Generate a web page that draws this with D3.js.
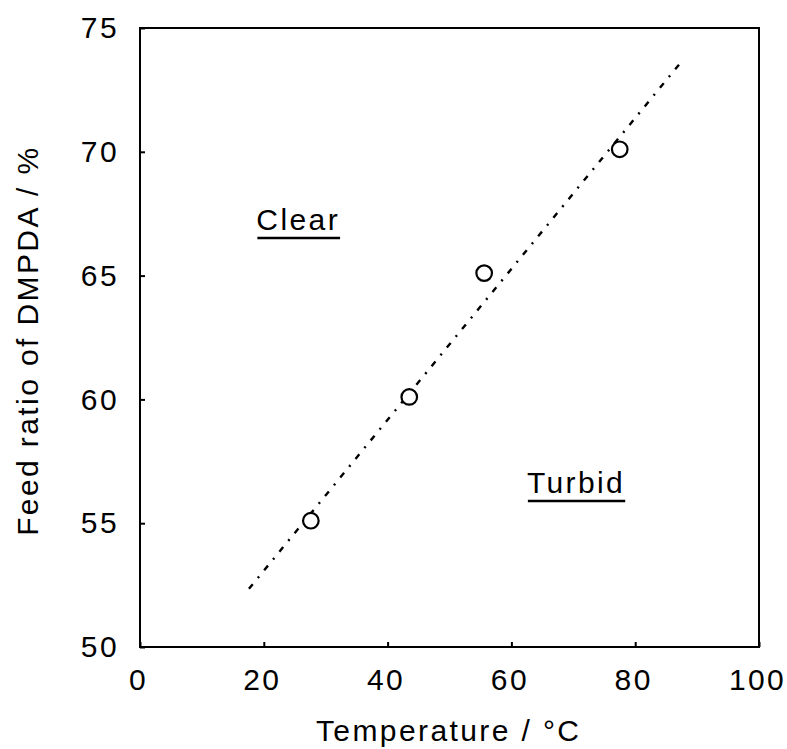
<!DOCTYPE html>
<html>
<head>
<meta charset="utf-8">
<script src="https://cdn.jsdelivr.net/npm/d3@7"></script>
<style>
  body { margin: 0; background: #fff; }
  svg text { font-family: "Liberation Sans", Arial, sans-serif; fill: #000; }
</style>
</head>
<body>
<svg id="chart" width="787" height="749"></svg>
<script>
// ---- data ----
const temperature = [27.6, 43.5, 55.6, 77.5];
const feedRatio   = [55.1, 60.1, 65.1, 70.1];
const trendX = [17.6, 87.4];
const trendY = [52.35, 73.62];
const xTicks = [0, 20, 40, 60, 80, 100];
const yTicks = [50, 55, 60, 65, 70, 75];
const regionLabels = ["Clear", "Turbid"];
const regionLabelX = [18.8, 62.5];
const regionLabelY = [66.84, 56.22];
const xTitle = "Temperature / °C";
const yTitle = "Feed ratio of DMPDA / %";

// ---- layout ----
const LS = 2.4;            // letter spacing seen in the reference
const FS = 30;
const mLeft = 140, mRight = 759, mTop = 28, mBottom = 647;

const svg = d3.select("#chart");
const x = d3.scaleLinear().domain([0, 100]).range([mLeft, mRight]);
const y = d3.scaleLinear().domain([50, 75]).range([mBottom, mTop]);

// axes
const gx = svg.append("g").attr("transform", `translate(0,${mBottom})`)
  .call(d3.axisBottom(x).tickValues(xTicks).tickSize(-5).tickPadding(22).tickFormat(d3.format("d")));
const gy = svg.append("g").attr("transform", `translate(${mLeft},0)`)
  .call(d3.axisLeft(y).tickValues(yTicks).tickSize(-5).tickPadding(21).tickFormat(d3.format("d")));
[gx, gy].forEach(g => {
  g.select(".domain").remove();
  g.selectAll(".tick line").attr("stroke", "#000").attr("stroke-width", 2);
  g.selectAll(".tick text").attr("font-size", FS).attr("font-family", "Liberation Sans, Arial, sans-serif")
    .attr("fill", "#000").attr("letter-spacing", LS);
});
gx.selectAll(".tick text").attr("dx", -2);

// frame
svg.append("rect").attr("x", mLeft).attr("y", mTop)
  .attr("width", mRight - mLeft).attr("height", mBottom - mTop)
  .attr("fill", "none").attr("stroke", "#000").attr("stroke-width", 2);

// trend line
svg.append("path")
  .datum(trendX.map((d, i) => [d, trendY[i]]))
  .attr("d", d3.line().x(d => x(d[0])).y(d => y(d[1])))
  .attr("fill", "none").attr("stroke", "#000").attr("stroke-width", 2.4)
  .attr("stroke-dasharray", "6,8,2,8");

// points
svg.append("g").selectAll("circle")
  .data(temperature.map((d, i) => [d, feedRatio[i]]))
  .join("circle")
  .attr("cx", d => x(d[0])).attr("cy", d => y(d[1])).attr("r", 7.8)
  .attr("fill", "#fff").attr("stroke", "#000").attr("stroke-width", 2.2);

// region labels with underline
regionLabels.forEach((t, i) => {
  const px = x(regionLabelX[i]), py = y(regionLabelY[i]);
  const tx = svg.append("text")
    .attr("x", px).attr("y", py)
    .attr("font-size", FS).attr("letter-spacing", LS).text(t);
  const w = tx.node().getComputedTextLength();
  svg.append("line").attr("x1", px + 1).attr("x2", px + w)
    .attr("y1", py + 8).attr("y2", py + 8)
    .attr("stroke", "#000").attr("stroke-width", 2.5);
});

// axis titles
svg.append("text")
  .attr("x", (mLeft + mRight) / 2 - 2 + LS / 2).attr("y", 741)
  .attr("text-anchor", "middle").attr("font-size", FS).attr("letter-spacing", LS).text(xTitle);
svg.append("text")
  .attr("transform", `translate(38,${(mTop + mBottom) / 2 + 2 + LS / 2}) rotate(-90)`)
  .attr("text-anchor", "middle").attr("font-size", FS).attr("letter-spacing", LS).text(yTitle);
</script>
</body>
</html>
